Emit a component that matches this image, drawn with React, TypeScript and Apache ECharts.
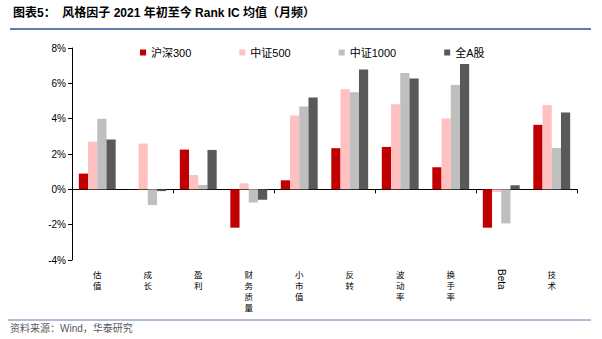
import React, { useEffect, useRef } from "react";
import * as echarts from "echarts";

const categories = ["估值", "成长", "盈利", "财务质量", "小市值", "反转", "波动率", "换手率", "Beta", "技术"];
const seriesNames = ["沪深300", "中证500", "中证1000", "全A股"];
const hs300 = [0.89, 0.02, 2.25, -2.17, 0.51, 2.33, 2.4, 1.25, -2.17, 3.65];
const zz500 = [2.7, 2.59, 0.81, 0.34, 4.18, 5.66, 4.82, 4.01, -0.15, 4.77];
const zz1000 = [3.99, -0.89, 0.25, -0.74, 4.69, 5.49, 6.58, 5.9, -1.93, 2.34];
const allA = [2.82, -0.1, 2.23, -0.59, 5.2, 6.79, 6.28, 7.09, 0.23, 4.35];
const colors = ["#C00000", "#FFC0C0", "#BFBFBF", "#595959"];
const yTicks = { min: -4, max: 8, interval: 2 };
const title = "图表5：  风格因子 2021 年初至今 Rank IC 均值（月频）";
const source = "资料来源：Wind，华泰研究";

const FONT = "'Liberation Sans', 'Noto Sans CJK SC', sans-serif";
const isLatin = (s: string) => /^[A-Za-z]+$/.test(s);

export default function App() {
  const ref = useRef<HTMLDivElement>(null);
  useEffect(() => {
    document.body.style.margin = "0";
    const chart = echarts.init(ref.current!, undefined, { renderer: "svg" });
    const values = [hs300, zz500, zz1000, allA];
    chart.setOption({
      animation: false,
      backgroundColor: "#fff",
      textStyle: { fontFamily: FONT },
      grid: { left: 72, right: 25, top: 48, bottom: 79 },
      legend: {
        data: seriesNames,
        left: 135,
        top: 42,
        itemWidth: 6,
        itemHeight: 6,
        itemGap: 48,
        icon: "rect",
        textStyle: { fontSize: 11, color: "#000", fontFamily: FONT },
      },
      xAxis: [
        {
          type: "category",
          data: categories,
          position: "bottom",
          axisLine: { onZero: true, lineStyle: { color: "#000", width: 1 } },
          axisTick: { show: true, length: 4, lineStyle: { color: "#000" } },
          axisLabel: { show: false },
        },
        {
          type: "category",
          data: categories,
          position: "bottom",
          axisLine: { show: false, onZero: false },
          axisTick: { show: false },
          axisLabel: {
            interval: (_i: number, v: string) => !isLatin(v),
            margin: 8,
            fontSize: 8.5,
            lineHeight: 11,
            color: "#000",
            fontFamily: "'Noto Sans CJK SC', sans-serif",
            formatter: (v: string) => v.split("").join("\n"),
          },
        },
        {
          type: "category",
          data: categories,
          position: "bottom",
          axisLine: { show: false, onZero: false },
          axisTick: { show: false },
          axisLabel: {
            interval: (_i: number, v: string) => isLatin(v),
            margin: 9,
            fontSize: 10,
            rotate: -90,
            color: "#000",
            fontFamily: FONT,
          },
        },
      ],
      yAxis: {
        type: "value",
        min: yTicks.min,
        max: yTicks.max,
        interval: yTicks.interval,
        axisLine: { show: true, lineStyle: { color: "#000", width: 1 } },
        axisTick: { show: true, length: 4, lineStyle: { color: "#000" } },
        splitLine: { show: false },
        axisLabel: { fontSize: 10, color: "#000", margin: 6, formatter: (v: number) => `${v}%` },
      },
      series: seriesNames.map((name, i) => ({
        name,
        type: "bar",
        xAxisIndex: 0,
        data: values[i],
        barGap: "0%",
        barCategoryGap: "27%",
        itemStyle: { color: colors[i] },
      })),
      graphic: [
        {
          type: "text",
          left: 13,
          top: 7,
          style: { text: title, fill: "#000", font: `bold 12px ${FONT}` },
        },
        {
          type: "line",
          shape: { x1: 10, y1: 29, x2: 591, y2: 29 },
          style: { stroke: "#5B7DB1", lineWidth: 2 },
        },
        {
          type: "line",
          shape: { x1: 8, y1: 320, x2: 591, y2: 320 },
          style: { stroke: "#5B7DB1", lineWidth: 1 },
        },
        {
          type: "text",
          left: 10,
          top: 323,
          style: { text: source, fill: "#595959", font: `10px ${FONT}` },
        },
      ],
    });
    return () => chart.dispose();
  }, []);
  return <div ref={ref} style={{ width: 602, height: 339 }} />;
}
